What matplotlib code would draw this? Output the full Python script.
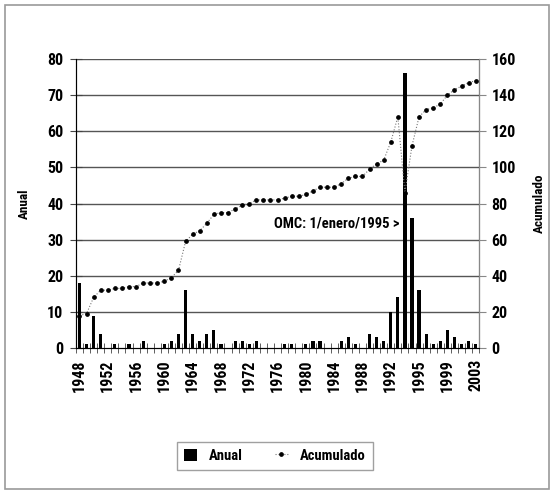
import numpy as np
import matplotlib
matplotlib.use('Agg')
import matplotlib.pyplot as plt
from matplotlib.patches import Rectangle

plt.rcParams['font.family'] = ['Roboto Condensed', 'DejaVu Sans']
plt.rcParams['font.weight'] = 'bold'
plt.rcParams['axes.labelweight'] = 'bold'

# categories (one extra slot between 1994 and 1995)
categorias = ['1948', '1949', '1950', '1951', '1952', '1953', '1954', '1955', '1956', '1957',
              '1958', '1959', '1960', '1961', '1962', '1963', '1964', '1965', '1966', '1967',
              '1968', '1969', '1970', '1971', '1972', '1973', '1974', '1975', '1976', '1977',
              '1978', '1979', '1980', '1981', '1982', '1983', '1984', '1985', '1986', '1987',
              '1988', '1989', '1990', '1991', '1992', '1993', '1994', '1994b', '1995', '1996',
              '1997', '1998', '1999', '2000', '2001', '2002', '2003']

anual = [18, 1, 9, 4, 0, 1, 0, 1, 0, 2,
         0, 0, 1, 2, 4, 16, 4, 2, 4, 5,
         1, 0, 2, 2, 1, 2, 0, 0, 0, 1,
         1, 0, 1, 2, 2, 0, 0, 2, 3, 1,
         0, 4, 3, 2, 10, 14, 76, 36, 16, 4,
         1, 2, 5, 3, 1, 2, 1]

acumulado = [18, 19, 28, 32, 32, 33, 33, 34, 34, 36,
             36, 36, 37, 39, 43, 59, 63, 65, 69, 74,
             75, 75, 77, 79, 80, 82, 82, 82, 82, 83,
             84, 84, 85, 87, 89, 89, 89, 91, 94, 95,
             95, 99, 102, 104, 114, 128, 86, 112, 128, 132,
             133, 135, 140, 143, 145, 147, 148]

etiquetas_x = ['1948', '1952', '1956', '1960', '1964', '1968', '1972', '1976',
               '1980', '1984', '1988', '1992', '1995', '1999', '2003']
posiciones_x = [0, 4, 8, 12, 16, 20, 24, 28, 32, 36, 40, 44, 48, 52, 56]

x = np.arange(len(categorias))

fig = plt.figure(figsize=(5.54, 4.94), dpi=100)
fig.patches.append(Rectangle((0.009, 0.010), 0.982, 0.980, transform=fig.transFigure,
                             fill=False, edgecolor='#9a9a9a', lw=1.2))

ax = fig.add_axes([0.137, 0.2955, 0.728, 0.585])
for v in range(10, 81, 10):
    ax.axhline(v, color='#555555', lw=1.0, zorder=0)

ax.bar(x, anual, width=0.45, color='black', zorder=2, label='Anual')
ax.set_xlim(-0.5, len(categorias) - 0.5)
ax.set_ylim(0, 80)
ax.set_yticks(range(0, 81, 10))
ax.set_xticks(posiciones_x)
ax.set_xticklabels(etiquetas_x, rotation=90, fontsize=11.5)
ax.set_xticks(np.arange(-0.5, len(categorias), 1), minor=True)
ax.tick_params(axis='x', which='major', length=0, pad=8)
ax.tick_params(axis='x', which='minor', length=7, color='#444444', direction='inout')
ax.tick_params(axis='y', length=8, labelsize=11.5, direction='inout', color='#444444', pad=5)
ax.set_ylabel('Anual', fontsize=9.5, labelpad=12)
ax.spines['top'].set_visible(False)
ax.spines['left'].set_color('#444444')
ax.spines['bottom'].set_color('#444444')

ax2 = ax.twinx()
ax2.plot(x, acumulado, color='#777777', lw=0.8, ls=':', marker='o', markersize=2.4,
         markerfacecolor='black', markeredgecolor='black', zorder=3, label='Acumulado')
ax2.set_ylim(0, 160)
ax2.set_yticks(range(0, 161, 20))
ax2.tick_params(axis='y', length=5, labelsize=11.5, color='#888888', pad=4)
ax2.set_ylabel('Acumulado', fontsize=9.5, labelpad=12)
ax2.spines['top'].set_visible(False)
ax2.spines['right'].set_color('#888888')

ax.text(45.2, 34.6, 'OMC: 1/enero/1995 >', ha='right', va='center', fontsize=10.5)

h1, l1 = ax.get_legend_handles_labels()
h2, l2 = ax2.get_legend_handles_labels()
fig.legend(h1 + h2, l1 + l2, loc='center', bbox_to_anchor=(0.496, 0.077), ncol=2,
           fontsize=10.5, frameon=True, fancybox=False, edgecolor='#888888',
           handlelength=0.9, handleheight=0.9, handletextpad=0.8, columnspacing=2.2,
           borderpad=0.5)

fig.savefig('out.png', dpi=100)
